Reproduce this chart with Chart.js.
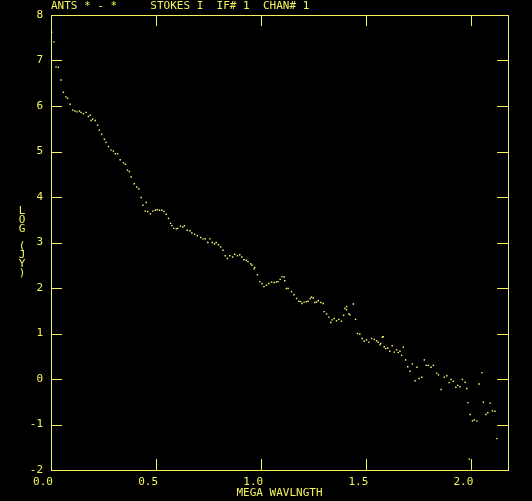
<!DOCTYPE html>
<html>
<head>
<meta charset="utf-8">
<script src="https://cdn.jsdelivr.net/npm/chart.js@4"></script>
<style>
  html, body { margin: 0; padding: 0; background: #000; }
  #wrap { width: 532px; height: 501px; }
</style>
</head>
<body>
<div id="wrap"><canvas id="uvplot" width="532" height="501"></canvas></div>
<script>
// Titulos y etiquetas del grafico
const plotTitle = 'ANTS * - *     STOKES I  IF# 1  CHAN# 1';
const xAxisLabel = 'MEGA WAVLNGTH';
const yAxisLabel = ['L', 'O', 'G', ' ', '(', 'J', 'Y', ')'];

// Rango de los ejes
const xRange = [0, 2.174];
const yRange = [-2, 8];

// Distancia uv (mega longitudes de onda)
const waveMega = [
  0.003, 0.014, 0.024, 0.035, 0.048, 0.059, 0.071, 0.079, 0.091, 0.103,
  0.114, 0.124, 0.135, 0.143, 0.154, 0.167, 0.178, 0.187, 0.191, 0.198,
  0.210, 0.222, 0.230, 0.241, 0.254, 0.262, 0.273, 0.286, 0.297, 0.306,
  0.317, 0.329, 0.345, 0.354, 0.364, 0.373, 0.381, 0.396, 0.408, 0.418,
  0.429, 0.437, 0.453, 0.448, 0.460, 0.473, 0.484, 0.496, 0.505, 0.516,
  0.527, 0.537, 0.548, 0.559, 0.569, 0.575, 0.584, 0.596, 0.603, 0.616,
  0.627, 0.635, 0.648, 0.661, 0.670, 0.683, 0.696, 0.712, 0.723, 0.734,
  0.746, 0.756, 0.767, 0.778, 0.786, 0.797, 0.807, 0.818, 0.829, 0.839,
  0.851, 0.864, 0.874, 0.887, 0.898, 0.908, 0.918, 0.929, 0.937,
  0.950, 0.956, 0.966, 0.969, 0.982, 0.993, 1.004, 1.013, 1.025, 1.036,
  1.049, 1.061, 1.072, 1.080, 1.090, 1.099, 1.109, 1.112, 1.120, 1.128,
  1.144, 1.156, 1.168, 1.179, 1.188, 1.194, 1.204, 1.215, 1.223, 1.233,
  1.239, 1.247, 1.255, 1.263, 1.271, 1.284, 1.295, 1.299, 1.311, 1.322,
  1.331, 1.337, 1.347, 1.358, 1.369, 1.382, 1.392, 1.398, 1.406,
  1.406, 1.422, 1.438, 1.449, 1.417, 1.458, 1.469, 1.480, 1.490, 1.501,
  1.512, 1.525, 1.538, 1.549, 1.557, 1.565, 1.568, 1.576, 1.581, 1.585,
  1.592, 1.602, 1.612, 1.623, 1.633, 1.644, 1.652, 1.660, 1.668, 1.676,
  1.687, 1.697, 1.708, 1.719, 1.732, 1.741, 1.751, 1.764, 1.776, 1.785,
  1.795,
  1.808, 1.819, 1.835, 1.843, 1.856, 1.871, 1.883, 1.894, 1.903, 1.914,
  1.926, 1.935, 1.946, 1.957, 1.970, 1.978, 1.983, 1.994, 2.005, 2.014,
  2.026, 2.037, 2.050, 2.057, 2.069, 2.078, 2.089, 2.100, 2.112, 2.121,
  1.990
];

// Log de la amplitud (Jy)
const logJy = [
  7.62, 7.41, 6.86, 6.85, 6.57, 6.30, 6.20, 6.17, 6.04, 5.91,
  5.89, 5.87, 5.89, 5.86, 5.83, 5.86, 5.77, 5.80, 5.68, 5.71,
  5.68, 5.58, 5.47, 5.38, 5.27, 5.20, 5.11, 5.03, 5.01, 4.95,
  4.95, 4.82, 4.75, 4.72, 4.59, 4.56, 4.44, 4.29, 4.22, 4.18,
  3.99, 3.82, 3.88, 3.69, 3.68, 3.63, 3.69, 3.71, 3.72, 3.71,
  3.71, 3.68, 3.62, 3.53, 3.42, 3.37, 3.31, 3.30, 3.31, 3.36,
  3.34, 3.37, 3.27, 3.26, 3.21, 3.18, 3.15, 3.11, 3.08, 3.08,
  3.00, 3.08, 3.00, 2.97, 3.00, 2.95, 2.90, 2.83, 2.71, 2.65,
  2.71, 2.68, 2.74, 2.71, 2.73, 2.68, 2.62, 2.61, 2.58,
  2.53, 2.50, 2.42, 2.45, 2.29, 2.14, 2.10, 2.03, 2.06, 2.10,
  2.13, 2.12, 2.13, 2.14, 2.19, 2.25, 2.24, 2.16, 1.99, 1.99,
  1.92, 1.85, 1.77, 1.71, 1.70, 1.66, 1.69, 1.70, 1.71, 1.77,
  1.80, 1.78, 1.68, 1.69, 1.72, 1.68, 1.66, 1.48, 1.43, 1.36,
  1.24, 1.30, 1.33, 1.28, 1.31, 1.27, 1.40, 1.55, 1.52,
  1.59, 1.41, 1.65, 1.31, 1.43, 1.00, 0.99, 0.89, 0.83, 0.86,
  0.81, 0.89, 0.87, 0.84, 0.81, 0.75, 0.78, 0.92, 0.93, 0.71,
  0.67, 0.68, 0.61, 0.73, 0.59, 0.64, 0.58, 0.61, 0.52, 0.70,
  0.42, 0.27, 0.17, 0.33, -0.04, 0.26, 0.01, 0.04, 0.42, 0.30,
  0.30,
  0.26, 0.30, 0.13, 0.09, -0.23, 0.04, 0.07, -0.08, -0.01, -0.05,
  -0.18, -0.14, -0.17, -0.01, -0.07, -0.21, -0.52, -0.78, -0.92, -0.90,
  -0.92, -0.11, 0.14, -0.51, -0.78, -0.74, -0.53, -0.70, -0.71, -1.31,
  -1.76
];

const yellow = '#f4f45c';
const dotColor = '#ffff7a';
const monoFont = '"DejaVu Sans Mono", monospace';

Chart.defaults.font.family = monoFont;
Chart.defaults.font.size = 11;
Chart.defaults.color = yellow;

// Marco con marcas hacia adentro en los cuatro lados + titulo vertical del eje Y
const frameTicks = {
  id: 'frameTicks',
  afterDraw(chart) {
    const { ctx, chartArea: a, scales: { x, y } } = chart;
    const L = Math.round(a.left), R = Math.round(a.right);
    const T = Math.round(a.top), B = Math.round(a.bottom);
    const len = 11;
    ctx.save();
    ctx.strokeStyle = yellow;
    ctx.lineWidth = 1;
    ctx.strokeRect(L + 0.5, T + 0.5, R - L, B - T);
    ctx.beginPath();
    x.ticks.forEach(t => {
      if (t.value <= x.min || t.value >= x.max) return;
      const px = Math.round(x.getPixelForValue(t.value)) + 0.5;
      ctx.moveTo(px, B); ctx.lineTo(px, B - len);
      ctx.moveTo(px, T); ctx.lineTo(px, T + len);
    });
    y.ticks.forEach(t => {
      if (t.value <= y.min || t.value >= y.max) return;
      const py = Math.round(y.getPixelForValue(t.value)) + 0.5;
      ctx.moveTo(L, py); ctx.lineTo(L + len, py);
      ctx.moveTo(R, py); ctx.lineTo(R - len, py);
    });
    ctx.stroke();

    ctx.fillStyle = yellow;
    ctx.font = '11px ' + monoFont;
    ctx.textAlign = 'center';
    ctx.textBaseline = 'middle';
    yAxisLabel.forEach((ch, i) => ctx.fillText(ch, 22, 211 + i * 8.9));
    ctx.restore();
  }
};

const ctx = document.getElementById('uvplot').getContext('2d');

new Chart(ctx, {
  type: 'scatter',
  data: {
    datasets: [{
      label: 'LOG (JY)',
      data: waveMega.map((v, i) => ({ x: v, y: logJy[i] })),
      backgroundColor: dotColor,
      borderWidth: 0,
      pointStyle: 'rect',
      pointRadius: 1,
      pointHoverRadius: 1
    }]
  },
  options: {
    responsive: false,
    animation: false,
    devicePixelRatio: 1,
    layout: { padding: { left: 0, right: 24, top: 0, bottom: 0 } },
    scales: {
      x: {
        type: 'linear',
        min: xRange[0],
        max: xRange[1],
        afterFit: s => { s.height = 31; },
        grid: { display: false, drawTicks: false },
        border: { display: false },
        ticks: {
          stepSize: 0.5,
          includeBounds: false,
          padding: 6,
          labelOffset: -8,
          maxRotation: 0,
          color: yellow,
          callback: v => Number(v).toFixed(1)
        },
        title: {
          display: true,
          text: xAxisLabel,
          color: yellow,
          padding: { top: 0, bottom: 1 }
        }
      },
      y: {
        type: 'linear',
        min: yRange[0],
        max: yRange[1],
        afterFit: s => { s.width = 51; },
        grid: { display: false, drawTicks: false },
        border: { display: false },
        ticks: {
          stepSize: 1,
          padding: 8,
          color: yellow
        }
      }
    },
    plugins: {
      legend: { display: false },
      tooltip: { enabled: false },
      title: {
        display: true,
        text: plotTitle,
        align: 'start',
        fullSize: false,
        color: yellow,
        font: { size: 11, weight: 'normal', lineHeight: 1.2 },
        padding: { top: 0, bottom: 1.8 }
      }
    }
  },
  plugins: [frameTicks]
});
</script>
</body>
</html>
